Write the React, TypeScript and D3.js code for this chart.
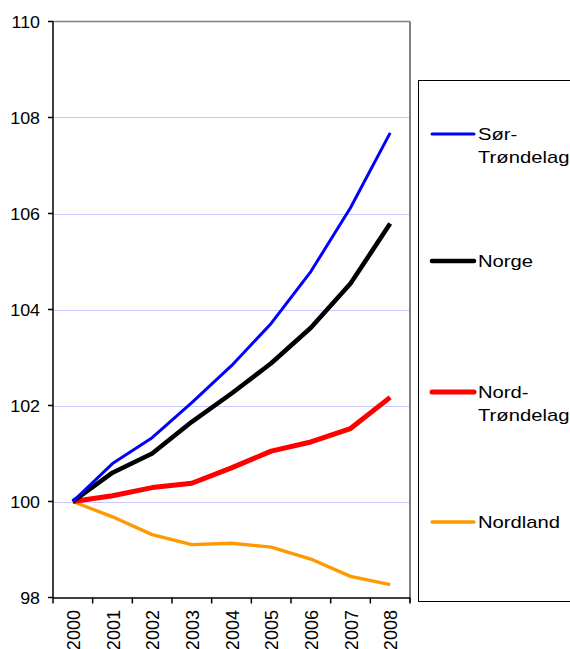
import React from "react";
import * as d3 from "d3";

const years = ["2000", "2001", "2002", "2003", "2004", "2005", "2006", "2007", "2008"];
const sorTrondelag = [100, 100.79, 101.33, 102.06, 102.83, 103.71, 104.79, 106.12, 107.68];
const norge = [100, 100.6, 101.0, 101.66, 102.25, 102.88, 103.62, 104.54, 105.79];
const nordTrondelag = [100, 100.12, 100.29, 100.38, 100.7, 101.05, 101.24, 101.52, 102.17];
const nordland = [100, 99.68, 99.31, 99.1, 99.13, 99.05, 98.8, 98.44, 98.27];
const yTicks = [98, 100, 102, 104, 106, 108, 110];

const series = [
  { name: ["Sør-", "Trøndelag"], values: sorTrondelag, color: "#0000ff", width: 3, legendY: 134 },
  { name: ["Norge"], values: norge, color: "#000000", width: 4.6, legendY: 261 },
  { name: ["Nord-", "Trøndelag"], values: nordTrondelag, color: "#ff0000", width: 5, legendY: 392 },
  { name: ["Nordland"], values: nordland, color: "#ff9900", width: 3.3, legendY: 522 },
];

const drawOrder = [3, 2, 1, 0];

export default function App() {
  const left = 53, right = 410, top = 21.5, bottom = 597.5;
  const x = d3.scaleBand<string>().domain(years).range([left, right]);
  const y = d3.scaleLinear().domain([98, 110]).range([bottom, top]);
  const font = "'Liberation Sans', Arial, sans-serif";

  const line = (vals: number[]) =>
    d3.line<number>()
      .x((_, i) => (x(years[i]) as number) + x.bandwidth() / 2)
      .y((v) => y(v))(vals) as string;

  const tickXs = d3.range(years.length + 1).map((i) => left + i * x.bandwidth());

  return (
    <svg width={570} height={649} style={{ position: "absolute", left: 0, top: 0, background: "#fff" }} fontFamily={font}>
      {/* gridlines */}
      {yTicks.filter((t) => t > 98 && t < 110).map((t) => (
        <line key={t} x1={left} x2={right} y1={Math.round(y(t)) + 0.5} y2={Math.round(y(t)) + 0.5} stroke="#c8c8ff" strokeWidth={1} />
      ))}
      {/* plot border top/right */}
      <line x1={left} x2={right} y1={y(110)} y2={y(110)} stroke="#808080" strokeWidth={1.5} />
      <line x1={right} x2={right} y1={y(110)} y2={bottom + 5} stroke="#808080" strokeWidth={2} />
      {/* axes */}
      <line x1={left} x2={left} y1={y(110)} y2={bottom + 0.5} stroke="#000" strokeWidth={1.5} />
      <line x1={left} x2={right} y1={bottom + 0.5} y2={bottom + 0.5} stroke="#000" strokeWidth={1.5} />
      {yTicks.map((t) => (
        <g key={t}>
          <line x1={left - 5} x2={left} y1={y(t)} y2={y(t)} stroke="#000" strokeWidth={1.5} />
          <text transform={`translate(40,${y(t)}) scale(1.05,1)`} dy="0.36em" textAnchor="end" fontSize={17} fill="#000">{t}</text>
        </g>
      ))}
      {tickXs.map((tx, i) => (
        <line key={i} x1={tx} x2={tx} y1={bottom} y2={bottom + 6} stroke="#000" strokeWidth={1.5} />
      ))}
      {years.map((yr) => {
        const cx = (x(yr) as number) + x.bandwidth() / 2;
        return (
          <text key={yr} transform={`translate(${cx + 7},${610}) rotate(-90) scale(0.95,1)`} textAnchor="end" fontSize={19} fill="#000">{yr}</text>
        );
      })}
      {/* series */}
      {drawOrder.map((i) => {
        const s = series[i];
        return <path key={i} d={line(s.values)} fill="none" stroke={s.color} strokeWidth={s.width} strokeLinejoin="round" />;
      })}
      {/* legend */}
      <rect x={418.5} y={80.5} width={170} height={521} fill="#fff" stroke="#000" strokeWidth={1} />
      {series.map((s, i) => (
        <g key={i}>
          <line x1={432} x2={474} y1={s.legendY} y2={s.legendY} stroke={s.color} strokeWidth={s.width} strokeLinecap="round" />
          {s.name.map((n, j) => (
            <text key={j} transform={`translate(478,${s.legendY + j * 23}) scale(1.19,1)`} dy="0.36em" fontSize={17} fill="#000">{n}</text>
          ))}
        </g>
      ))}
    </svg>
  );
}
